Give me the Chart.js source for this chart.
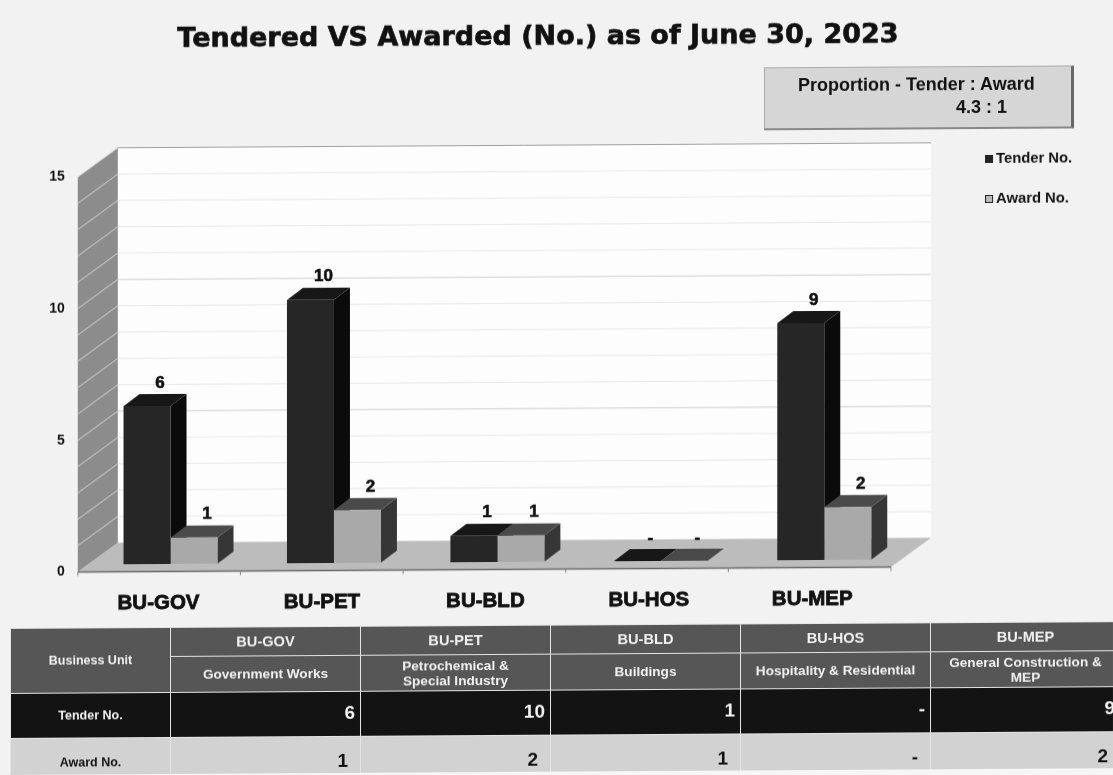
<!DOCTYPE html>
<html>
<head>
<meta charset="utf-8">
<title>Tendered VS Awarded</title>
<script src="https://cdn.jsdelivr.net/npm/chart.js@4"></script>
<style>
html, body { margin: 0; padding: 0; background: #f6f6f6; overflow: hidden; }
#page { position: absolute; left: 0; top: 0; width: 1113px; height: 775px; overflow: hidden;
        background: #f2f2f2; transform-origin: 0 0; transform: skewY(-0.35deg); filter: blur(0.4px);
        font-family: "Liberation Sans", Arial, sans-serif; color: #111; }
#title { position: absolute; left: 100px; width: 876px; top: 23px; text-align: center; white-space: nowrap;
         font: bold 27px "DejaVu Sans", sans-serif; -webkit-text-stroke: 0.7px #111; }
#box { position: absolute; left: 764px; top: 72px; width: 306px; height: 60px; background: #d6d6d6;
       border: 1px solid #aaa; border-right: 3px solid #666; border-bottom: 2px solid #888;
       font-weight: bold; font-size: 18px; }
#box div { position: absolute; white-space: nowrap; }
#chart { position: absolute; left: 0; top: 0; }
.lg { position: absolute; left: 985px; font-weight: bold; font-size: 14.8px; white-space: nowrap; }
.lg i { display: inline-block; width: 8px; height: 8px; margin-right: 3px; box-sizing: border-box; }
#tbl { position: absolute; left: 10px; top: 628px; width: 1110px; border-collapse: collapse; table-layout: fixed; }
#tbl td { border: 1px solid #e4e4e4; text-align: center; font-weight: bold; padding: 0; overflow: hidden; }
#tbl .hd td { background: #565656; color: #f2f2f2; font-size: 13.6px; line-height: 15px; }
#tbl .hd:first-child td { font-size: 14.6px; }
#tbl .tn td { background: #131313; color: #f2f2f2; font-size: 19px; text-align: right; padding-right: 5px; }
#tbl .an td { background: #d2d2d2; color: #111; font-size: 19px; text-align: right; padding-right: 12px; }
#tbl td.rh { font-size: 12.5px !important; text-align: center; padding-right: 0; }
</style>
</head>
<body>
<div id="page">
  <div id="title">Tendered VS Awarded (No.) as of June 30, 2023</div>
  <div id="box">
    <div style="left:33px;top:7px">Proportion - Tender : Award</div>
    <div style="left:191px;top:30px">4.3 : 1</div>
  </div>
  <canvas id="chart" width="1113" height="620"></canvas>
  <div class="lg" style="top:156px"><i style="background:#222"></i>Tender No.</div>
  <div class="lg" style="top:196px"><i style="background:#bbb;border:1px solid #222"></i>Award No.</div>
  <table id="tbl"></table>
</div>
<script>
const categories = ['BU-GOV', 'BU-PET', 'BU-BLD', 'BU-HOS', 'BU-MEP'];
const unitNames = ['Government Works', 'Petrochemical &<br>Special Industry', 'Buildings', 'Hospitality & Residential', 'General Construction &<br>MEP'];
const tenderNo = [6, 10, 1, 0, 9];
const awardNo = [1, 2, 1, 0, 2];
const yTicks = [0, 5, 10, 15];

const show = v => (v === 0 ? '-' : String(v));

// table under the chart
const tbl = document.getElementById('tbl');
let html = '<colgroup><col style="width:160px">' + categories.map(() => '<col style="width:190px">').join('') + '</colgroup>';
html += '<tr class="hd" style="height:29px"><td class="rh" rowspan="2">Business Unit</td>' + categories.map(c => '<td>' + c + '</td>').join('') + '</tr>';
html += '<tr class="hd" style="height:36px">' + unitNames.map(n => '<td>' + n.replace('&', '&amp;') + '</td>').join('') + '</tr>';
html += '<tr class="tn" style="height:45px"><td class="rh">Tender No.</td>' + tenderNo.map(v => '<td style="padding-bottom:3px">' + show(v) + '</td>').join('') + '</tr>';
html += '<tr class="an" style="height:48px"><td class="rh">Award No.</td>' + awardNo.map(v => '<td>' + show(v) + '</td>').join('') + '</tr>';
tbl.innerHTML = html;

// fake 3D room and bar sides, everything hangs off the chart's scales
const depthX = 16, depthY = 12;
const wallX = 40, wallY = 29, frontY = 7.5;
const faces = [
  { top: '#171717', side: '#0b0b0b' },
  { top: '#4a4a4a', side: '#363636' }
];

function poly(ctx, pts, fill) {
  ctx.beginPath();
  pts.forEach((p, i) => (i ? ctx.lineTo(p[0], p[1]) : ctx.moveTo(p[0], p[1])));
  ctx.closePath();
  ctx.fillStyle = fill;
  ctx.fill();
}

function line(ctx, x1, y1, x2, y2, color, w) {
  ctx.beginPath();
  ctx.moveTo(x1, y1);
  ctx.lineTo(x2, y2);
  ctx.strokeStyle = color;
  ctx.lineWidth = w || 1;
  ctx.stroke();
}

const roomPlugin = {
  id: 'room',
  beforeDatasetsDraw(chart) {
    const ctx = chart.ctx, x = chart.scales.x, y = chart.scales.y;
    const y0 = y.getPixelForValue(0) + frontY;
    const yMax = y.getPixelForValue(15) + frontY;
    const left = x.left - 11, right = x.right - 15;
    ctx.save();
    // back wall
    poly(ctx, [[left + wallX, yMax - wallY], [right + wallX, yMax - wallY], [right + wallX, y0 - wallY], [left + wallX, y0 - wallY]], '#fdfdfd');
    line(ctx, left + wallX, yMax - wallY, right + wallX, yMax - wallY, '#a0a0a0', 1);
    // left wall
    poly(ctx, [[left, yMax], [left + wallX, yMax - wallY], [left + wallX, y0 - wallY], [left, y0]], '#8c8c8c');
    // floor
    poly(ctx, [[left, y0], [left + wallX, y0 - wallY], [right + wallX, y0 - wallY], [right, y0]], '#bcbcbc');
    // grid
    y.ticks.forEach(t => {
      const py = y.getPixelForValue(t.value) + frontY;
      if (t.value > 0 && t.value < 15) {
        line(ctx, left + wallX, py - wallY, right + wallX, py - wallY, t.value % 5 === 0 ? '#cfcfcf' : '#e8e8e8', 1);
      }
      if (t.value > 0) line(ctx, left, py, left + wallX, py - wallY, '#d4d4d4', 1);
    });
    line(ctx, left, y0, right, y0, '#6a6a6a', 1.5);
    for (let i = 0; i <= categories.length; i++) {
      const tx = left + i * (right - left) / categories.length;
      line(ctx, tx, y0, tx, y0 + 4, '#888', 1);
    }
    // bar tops and sides go under the front faces
    categories.forEach((c, i) => {
      chart.data.datasets.forEach((ds, d) => {
        const bar = chart.getDatasetMeta(d).data[i];
        const l = bar.x - bar.width / 2, r = bar.x + bar.width / 2;
        poly(ctx, [[r, bar.y], [r + depthX, bar.y - depthY], [r + depthX, bar.base - depthY], [r, bar.base]], faces[d].side);
        poly(ctx, [[l, bar.y], [l + depthX, bar.y - depthY], [r + depthX, bar.y - depthY], [r, bar.y]], faces[d].top);
      });
    });
    ctx.restore();
  },
  afterDatasetsDraw(chart) {
    const ctx = chart.ctx;
    ctx.save();
    ctx.font = 'bold 17px "Liberation Sans", Arial, sans-serif';
    ctx.fillStyle = '#111';
    ctx.strokeStyle = '#111';
    ctx.lineWidth = 0.6;
    ctx.textAlign = 'center';
    ctx.textBaseline = 'middle';
    chart.data.datasets.forEach((ds, d) => {
      chart.getDatasetMeta(d).data.forEach((bar, i) => {
        const lx = bar.x + 13, ly = bar.y - 23;
        ctx.fillText(show(ds.data[i]), lx, ly);
        ctx.strokeText(show(ds.data[i]), lx, ly);
      });
    });
    ctx.restore();
  }
};

new Chart(document.getElementById('chart').getContext('2d'), {
  type: 'bar',
  data: {
    labels: categories,
    datasets: [
      { label: 'Tender No.', data: tenderNo, backgroundColor: '#262626' },
      { label: 'Award No.', data: awardNo, backgroundColor: '#a9a9a9' }
    ]
  },
  options: {
    responsive: false,
    animation: false,
    layout: { padding: { top: 170, right: 207, left: 0, bottom: 0 } },
    categoryPercentage: 0.575,
    barPercentage: 1,
    plugins: { legend: { display: false }, tooltip: { enabled: false } },
    scales: {
      x: {
        grid: { display: false, drawTicks: false },
        border: { display: false },
        afterFit: s => { s.height = 55; },
        ticks: {
          padding: 27,
          labelOffset: -12,
          maxRotation: 0,
          color: '#111',
          textStrokeColor: '#111',
          textStrokeWidth: 0.8,
          font: { family: '"Liberation Sans", Arial, sans-serif', weight: 'bold', size: 20.5 }
        }
      },
      y: {
        min: 0,
        max: 15,
        grid: { display: false, drawTicks: false },
        border: { display: false },
        afterFit: s => { s.width = 88.8; },
        ticks: {
          stepSize: 1,
          autoSkip: false,
          padding: 24,
          labelOffset: 7.5,
          color: '#111',
          callback: v => (yTicks.includes(v) ? v : ''),
          font: { family: '"Liberation Sans", Arial, sans-serif', weight: 'bold', size: 14 }
        }
      }
    }
  },
  plugins: [roomPlugin]
});
</script>
</body>
</html>
